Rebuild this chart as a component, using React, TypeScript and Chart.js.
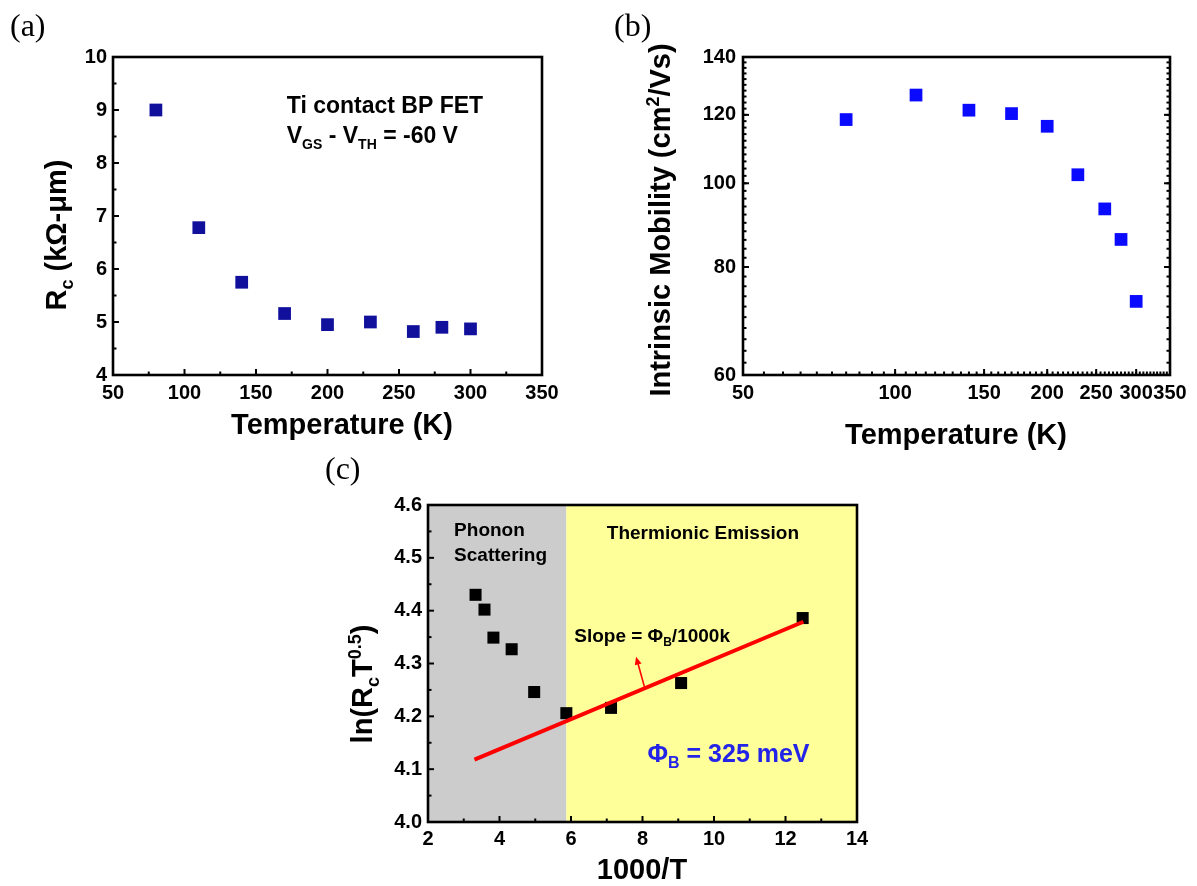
import React, { useEffect, useRef } from "react";
import { Chart, registerables } from "chart.js";

Chart.register(...registerables);

const SANS = "'Liberation Sans', Arial, Helvetica, sans-serif";
const SERIF = "'Liberation Serif', 'Times New Roman', Times, serif";

// ---------------- Panel (a): contact resistance vs temperature
const tempA = [80, 110, 140, 170, 200, 230, 260, 280, 300];
const contactResA = [9.0, 6.78, 5.75, 5.16, 4.95, 5.0, 4.82, 4.9, 4.87];
const aXTicks = [50, 100, 150, 200, 250, 300, 350];
const aYTicks = [4, 5, 6, 7, 8, 9, 10];
const aXMinor = [75, 125, 175, 225, 275, 325];
const aYMinor = [4.5, 5.5, 6.5, 7.5, 8.5, 9.5];

// ---------------- Panel (b): intrinsic mobility vs temperature (log-log)
const tempB = [80, 110, 140, 170, 200, 230, 260, 280, 300];
const mobilityB = [118.5, 126.5, 121.5, 120.4, 116.4, 102.3, 93.4, 86.1, 73.0];
const bXTicks = [50, 100, 150, 200, 250, 300, 350];
const bYTicks = [60, 80, 100, 120, 140];

// ---------------- Panel (c): ln(Rc T^0.5) vs 1000/T
const invTempC = [3.33, 3.58, 3.83, 4.34, 4.97, 5.87, 7.12, 9.08, 12.48];
const lnRcC = [4.43, 4.402, 4.349, 4.327, 4.246, 4.206, 4.216, 4.263, 4.386];
const fitX = [3.3, 12.5];
const fitY = [4.118, 4.379];
const arrowX = [8.07, 7.82];
const arrowY = [4.252, 4.313];
const regionBounds = [2, 5.87, 14];
const regionColors = ["#cccccc", "#ffff99"];
const cXTicks = [2, 4, 6, 8, 10, 12, 14];
const cYTicks = [4.0, 4.1, 4.2, 4.3, 4.4, 4.5, 4.6];
const cXMinor = [3, 5, 7, 9, 11, 13];
const cYMinor = [4.05, 4.15, 4.25, 4.35, 4.45, 4.55];

const range = (a: number, b: number, s: number) => {
  const r: number[] = [];
  for (let v = a; v <= b + 1e-9; v += s) r.push(+v.toFixed(4));
  return r;
};
const bXMinor = range(50, 350, 5);
const bYMinor = range(60, 140, 2);

type Seg = { t: string; s?: "sub" | "sup" };
interface TextItem {
  segs: Seg[];
  x: number;
  y: number;
  data?: boolean;
  size: number;
  align?: "left" | "center";
  color?: string;
  rotate?: boolean;
  family?: string;
  weight?: string;
  baseline?: boolean;
}

function drawRich(ctx: CanvasRenderingContext2D, it: TextItem, px: number, py: number) {
  const fam = it.family || SANS;
  const weight = it.weight || "bold";
  const small = Math.round(it.size * 0.62);
  const fontFor = (sg: Seg) => `${weight} ${sg.s ? small : it.size}px ${fam}`;
  ctx.save();
  ctx.translate(px, py);
  if (it.rotate) ctx.rotate(-Math.PI / 2);
  ctx.fillStyle = it.color || "#000";
  ctx.textAlign = "left";
  ctx.textBaseline = "alphabetic";
  const widths = it.segs.map((sg) => {
    ctx.font = fontFor(sg);
    return ctx.measureText(sg.t).width;
  });
  const total = widths.reduce((a, b) => a + b, 0);
  let cx = it.align === "center" ? -total / 2 : 0;
  const base = it.baseline ? 0 : it.size * 0.358;
  it.segs.forEach((sg, i) => {
    ctx.font = fontFor(sg);
    let dy = base;
    if (sg.s === "sub") dy += it.size * 0.24;
    if (sg.s === "sup") dy -= it.size * 0.4;
    ctx.fillText(sg.t, cx, dy);
    cx += widths[i];
  });
  ctx.restore();
}

const makeTextPlugin = (items: TextItem[]) => ({
  id: "richText",
  afterDraw(chart: any) {
    const { ctx, scales } = chart;
    items.forEach((it) => {
      const px = it.data ? scales.x.getPixelForValue(it.x) : it.x;
      const py = it.data ? scales.y.getPixelForValue(it.y) : it.y;
      drawRich(ctx, it, px, py);
    });
  },
});

interface FrameOpts {
  xMajor: number[];
  xMinor: number[];
  yMajor: number[];
  yMinor: number[];
  mirrorY?: boolean;
}

const makeFramePlugin = (o: FrameOpts) => ({
  id: "frameTicks",
  afterDatasetsDraw(chart: any) {
    const { ctx, chartArea: ca, scales } = chart;
    const xs = scales.x;
    const ys = scales.y;
    ctx.save();
    ctx.strokeStyle = "#000";
    ctx.lineWidth = 2;
    const major = 6;
    const minor = 3.5;
    const xTick = (v: number, len: number) => {
      const p = xs.getPixelForValue(v);
      ctx.beginPath();
      ctx.moveTo(p, ca.bottom);
      ctx.lineTo(p, ca.bottom - len);
      ctx.stroke();
    };
    const yTick = (v: number, len: number) => {
      const p = ys.getPixelForValue(v);
      ctx.beginPath();
      ctx.moveTo(ca.left, p);
      ctx.lineTo(ca.left + len, p);
      ctx.stroke();
      if (o.mirrorY) {
        ctx.beginPath();
        ctx.moveTo(ca.right, p);
        ctx.lineTo(ca.right - len, p);
        ctx.stroke();
      }
    };
    o.xMinor.forEach((v) => xTick(v, minor));
    o.xMajor.forEach((v) => xTick(v, major));
    o.yMinor.forEach((v) => yTick(v, minor));
    o.yMajor.forEach((v) => yTick(v, major));
    ctx.lineWidth = 2.6;
    ctx.strokeRect(ca.left, ca.top, ca.right - ca.left, ca.bottom - ca.top);
    ctx.restore();
  },
});

const regionPlugin = {
  id: "regions",
  beforeDatasetsDraw(chart: any) {
    const { ctx, chartArea: ca, scales } = chart;
    ctx.save();
    for (let i = 0; i < regionBounds.length - 1; i++) {
      const x0 = scales.x.getPixelForValue(regionBounds[i]);
      const x1 = scales.x.getPixelForValue(regionBounds[i + 1]);
      ctx.fillStyle = regionColors[i];
      ctx.fillRect(x0, ca.top, x1 - x0, ca.bottom - ca.top);
    }
    ctx.restore();
  },
};

const arrowPlugin = {
  id: "slopeArrow",
  afterDatasetsDraw(chart: any) {
    const { ctx, scales } = chart;
    const x0 = scales.x.getPixelForValue(arrowX[0]);
    const y0 = scales.y.getPixelForValue(arrowY[0]);
    const x1 = scales.x.getPixelForValue(arrowX[1]);
    const y1 = scales.y.getPixelForValue(arrowY[1]);
    const ang = Math.atan2(y1 - y0, x1 - x0);
    const hl = 8;
    const hw = 3.5;
    ctx.save();
    ctx.strokeStyle = "#ff0000";
    ctx.fillStyle = "#ff0000";
    ctx.lineWidth = 1.6;
    ctx.beginPath();
    ctx.moveTo(x0, y0);
    ctx.lineTo(x1 - Math.cos(ang) * hl * 0.6, y1 - Math.sin(ang) * hl * 0.6);
    ctx.stroke();
    ctx.beginPath();
    ctx.moveTo(x1, y1);
    ctx.lineTo(
      x1 - Math.cos(ang) * hl + Math.sin(ang) * hw,
      y1 - Math.sin(ang) * hl - Math.cos(ang) * hw
    );
    ctx.lineTo(
      x1 - Math.cos(ang) * hl - Math.sin(ang) * hw,
      y1 - Math.sin(ang) * hl + Math.cos(ang) * hw
    );
    ctx.closePath();
    ctx.fill();
    ctx.restore();
  },
};

const tickFont = { family: SANS, size: 20, weight: "bold" as const };

function axis(opts: {
  type: "linear" | "logarithmic";
  min: number;
  max: number;
  ticks: number[];
  fmt?: (v: number) => string;
  size: (s: any) => void;
  padding: number;
}) {
  return {
    type: opts.type,
    min: opts.min,
    max: opts.max,
    afterBuildTicks: (s: any) => {
      s.ticks = opts.ticks.map((v) => ({ value: v }));
    },
    afterFit: opts.size,
    grid: { display: false, drawTicks: false, tickLength: 0 },
    border: { display: false },
    ticks: {
      padding: opts.padding,
      font: tickFont,
      color: "#000",
      autoSkip: false,
      maxRotation: 0,
      minRotation: 0,
      callback: (v: any) => (opts.fmt ? opts.fmt(Number(v)) : String(v)),
    },
  };
}

function baseOptions(W: number, H: number, L: number, T: number, R: number, B: number) {
  return {
    responsive: false,
    maintainAspectRatio: false,
    animation: false,
    events: [],
    layout: { padding: { left: 0, top: T, right: W - R, bottom: 0 } },
    plugins: { legend: { display: false }, tooltip: { enabled: false }, title: { display: false } },
    _L: L,
    _B: H - B,
  };
}

function configA() {
  const W = 598, H = 450, L = 113, T = 57, R = 542, B = 375;
  const o: any = baseOptions(W, H, L, T, R, B);
  o.scales = {
    x: axis({ type: "linear", min: 50, max: 350, ticks: aXTicks, size: (s) => (s.height = H - B), padding: 6 }),
    y: axis({ type: "linear", min: 4, max: 10, ticks: aYTicks, size: (s) => (s.width = L), padding: 6 }),
  };
  const texts: TextItem[] = [
    { segs: [{ t: "(a)" }], x: 10, y: 36, size: 32, family: SERIF, weight: "normal", baseline: true },
    { segs: [{ t: "R" }, { t: "c", s: "sub" }, { t: " (kΩ-μm)" }], x: 56, y: 235, size: 29, align: "center", rotate: true },
    { segs: [{ t: "Temperature (K)" }], x: 342, y: 424, size: 29, align: "center" },
    { segs: [{ t: "Ti contact BP FET" }], x: 171.5, y: 9.09, data: true, size: 23 },
    {
      segs: [{ t: "V" }, { t: "GS", s: "sub" }, { t: " - V" }, { t: "TH", s: "sub" }, { t: " = -60 V" }],
      x: 171.5, y: 8.53, data: true, size: 23,
    },
  ];
  return {
    type: "scatter",
    data: {
      datasets: [
        {
          data: tempA.map((t, i) => ({ x: t, y: contactResA[i] })),
          pointStyle: "rect",
          pointRadius: 9,
          pointHoverRadius: 9,
          backgroundColor: "#10109c",
          borderWidth: 0,
        },
      ],
    },
    options: o,
    plugins: [
      makeFramePlugin({ xMajor: aXTicks, xMinor: aXMinor, yMajor: aYTicks, yMinor: aYMinor }),
      makeTextPlugin(texts),
    ],
  };
}

function configB() {
  const W = 599, H = 450, L = 145, T = 57, R = 572, B = 375;
  const o: any = baseOptions(W, H, L, T, R, B);
  o.scales = {
    x: axis({ type: "logarithmic", min: 50, max: 350, ticks: bXTicks, size: (s) => (s.height = H - B), padding: 6 }),
    y: axis({ type: "logarithmic", min: 60, max: 140, ticks: bYTicks, size: (s) => (s.width = L), padding: 7 }),
  };
  const texts: TextItem[] = [
    { segs: [{ t: "(b)" }], x: 16, y: 36, size: 32, family: SERIF, weight: "normal", baseline: true },
    {
      segs: [{ t: "Intrinsic Mobility (cm" }, { t: "2", s: "sup" }, { t: "/Vs)" }],
      x: 62, y: 220, size: 29, align: "center", rotate: true,
    },
    { segs: [{ t: "Temperature (K)" }], x: 358, y: 434, size: 29, align: "center" },
  ];
  return {
    type: "scatter",
    data: {
      datasets: [
        {
          data: tempB.map((t, i) => ({ x: t, y: mobilityB[i] })),
          pointStyle: "rect",
          pointRadius: 9,
          pointHoverRadius: 9,
          backgroundColor: "#0a0aff",
          borderWidth: 0,
        },
      ],
    },
    options: o,
    plugins: [
      makeFramePlugin({ xMajor: bXTicks, xMinor: bXMinor, yMajor: bYTicks, yMinor: bYMinor, mirrorY: true }),
      makeTextPlugin(texts),
    ],
  };
}

function configC() {
  const W = 600, H = 436, L = 128, T = 55, R = 557, B = 372;
  const o: any = baseOptions(W, H, L, T, R, B);
  o.scales = {
    x: axis({ type: "linear", min: 2, max: 14, ticks: cXTicks, size: (s) => (s.height = H - B), padding: 5 }),
    y: axis({
      type: "linear", min: 4.0, max: 4.6, ticks: cYTicks, fmt: (v) => v.toFixed(1),
      size: (s) => (s.width = L), padding: 6,
    }),
  };
  const texts: TextItem[] = [
    { segs: [{ t: "(c)" }], x: 25, y: 29, size: 32, family: SERIF, weight: "normal", baseline: true },
    {
      segs: [{ t: "ln(R" }, { t: "c", s: "sub" }, { t: "T" }, { t: "0.5", s: "sup" }, { t: ")" }],
      x: 62, y: 234, size: 29, align: "center", rotate: true,
    },
    { segs: [{ t: "1000/T" }], x: 342, y: 419, size: 29, align: "center" },
    { segs: [{ t: "Phonon" }], x: 2.73, y: 4.555, data: true, size: 19 },
    { segs: [{ t: "Scattering" }], x: 2.73, y: 4.506, data: true, size: 19 },
    { segs: [{ t: "Thermionic Emission" }], x: 9.69, y: 4.548, data: true, size: 19, align: "center" },
    { segs: [{ t: "Slope = Φ" }, { t: "B", s: "sub" }, { t: "/1000k" }], x: 6.09, y: 4.354, data: true, size: 19 },
    {
      segs: [{ t: "Φ" }, { t: "B", s: "sub" }, { t: " = 325 meV" }],
      x: 8.14, y: 4.131, data: true, size: 25, color: "#2424e8",
    },
  ];
  return {
    type: "scatter",
    data: {
      datasets: [
        {
          data: fitX.map((x, i) => ({ x, y: fitY[i] })),
          showLine: true,
          borderColor: "#ff0000",
          borderWidth: 4,
          pointRadius: 0,
          pointHoverRadius: 0,
          fill: false,
        },
        {
          data: invTempC.map((x, i) => ({ x, y: lnRcC[i] })),
          pointStyle: "rect",
          pointRadius: 8.5,
          pointHoverRadius: 8.5,
          backgroundColor: "#000000",
          borderWidth: 0,
        },
      ],
    },
    options: o,
    plugins: [
      regionPlugin,
      arrowPlugin,
      makeFramePlugin({ xMajor: cXTicks, xMinor: cXMinor, yMajor: cYTicks, yMinor: cYMinor }),
      makeTextPlugin(texts),
    ],
  };
}

function Panel(props: { left: number; top: number; width: number; height: number; make: () => any }) {
  const ref = useRef<HTMLCanvasElement>(null);
  useEffect(() => {
    const chart = new Chart(ref.current as HTMLCanvasElement, props.make());
    return () => chart.destroy();
  }, []);
  return (
    <canvas
      ref={ref}
      width={props.width}
      height={props.height}
      style={{ position: "absolute", left: props.left, top: props.top, width: props.width, height: props.height }}
    />
  );
}

export default function App() {
  return (
    <div
      style={{
        position: "absolute",
        left: 0,
        top: 0,
        width: 1197,
        height: 886,
        background: "#ffffff",
        overflow: "hidden",
      }}
    >
      <Panel left={0} top={0} width={598} height={450} make={configA} />
      <Panel left={598} top={0} width={599} height={450} make={configB} />
      <Panel left={300} top={450} width={600} height={436} make={configC} />
    </div>
  );
}
